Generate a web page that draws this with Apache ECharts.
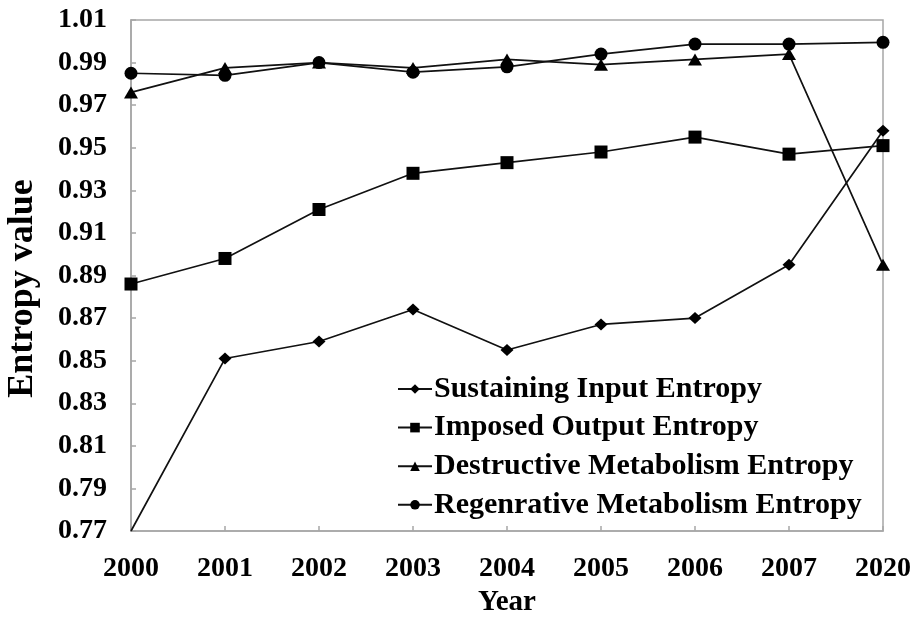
<!DOCTYPE html>
<html>
<head>
<meta charset="utf-8">
<script src="https://cdn.jsdelivr.net/npm/echarts@6/dist/echarts.min.js"></script>
<style>
  html, body { margin: 0; padding: 0; background: #fff; }
  #chart { width: 920px; height: 621px; }
</style>
</head>
<body>
<div id="chart"></div>
<script>
// ---- data ----
const years = ['2000', '2001', '2002', '2003', '2004', '2005', '2006', '2007', '2020'];
const sustainingInput = [0.770, 0.851, 0.859, 0.874, 0.855, 0.867, 0.870, 0.895, 0.958];
const imposedOutput = [0.886, 0.898, 0.921, 0.938, 0.943, 0.948, 0.955, 0.947, 0.951];
const destructiveMetabolism = [0.976, 0.9875, 0.990, 0.9875, 0.9915, 0.989, 0.9915, 0.994, 0.895];
const regenerativeMetabolism = [0.985, 0.984, 0.990, 0.9855, 0.988, 0.994, 0.9987, 0.9987, 0.9995];
const yTicks = [0.77, 0.79, 0.81, 0.83, 0.85, 0.87, 0.89, 0.91, 0.93, 0.95, 0.97, 0.99, 1.01];
const seriesNames = ['Sustaining Input Entropy', 'Imposed Output Entropy', 'Destructive Metabolism Entropy', 'Regenrative Metabolism Entropy'];

const FONT = "'Liberation Serif', 'Times New Roman', serif";
const axisGray = '#a6a6a6';

function lineSeries(name, data, symbol, size) {
  return {
    name: name,
    type: 'line',
    data: data,
    symbol: symbol,
    symbolSize: size,
    showSymbol: true,
    clip: true,
    lineStyle: { color: '#111', width: 1.7 },
    itemStyle: { color: '#000' },
    emphasis: { disabled: true },
    animation: false
  };
}

const chart = echarts.init(document.getElementById('chart'), null, { renderer: 'canvas' });
chart.setOption({
  backgroundColor: '#fff',
  animation: false,
  grid: {
    left: 131, right: 37, top: 20, bottom: 90,
    containLabel: false,
    outerBoundsMode: 'none',
    show: true, borderColor: axisGray, borderWidth: 1.5, backgroundColor: 'transparent'
  },
  legend: {
    orient: 'vertical',
    left: 392, top: 369,
    itemWidth: 34, itemHeight: 12, itemGap: 8.6,
    textStyle: { fontFamily: FONT, fontWeight: 'bold', fontSize: 30, color: '#000', lineHeight: 30, padding: [0, 0, 0, -3] },
    data: seriesNames
  },
  xAxis: {
    type: 'category',
    data: years,
    boundaryGap: false,
    name: 'Year',
    nameLocation: 'middle',
    nameGap: 50,
    nameTextStyle: { fontFamily: FONT, fontWeight: 'bold', fontSize: 29, color: '#000' },
    axisLine: { show: true, lineStyle: { color: axisGray, width: 1.5 } },
    axisTick: { show: true, inside: true, length: 5, alignWithLabel: true, lineStyle: { color: axisGray, width: 1.5 } },
    axisLabel: { fontFamily: FONT, fontWeight: 'bold', fontSize: 28, color: '#000', margin: 24 },
    splitLine: { show: false }
  },
  yAxis: {
    type: 'value',
    min: 0.77,
    max: 1.01,
    name: 'Entropy value',
    nameLocation: 'middle',
    nameGap: 90,
    nameRotate: 90,
    nameTextStyle: { fontFamily: FONT, fontWeight: 'bold', fontSize: 36, color: '#000', padding: [0, 26, 0, 0] },
    axisLine: { show: true, lineStyle: { color: axisGray, width: 1.5 } },
    axisTick: { show: true, inside: true, length: 5, customValues: yTicks, lineStyle: { color: axisGray, width: 1.5 } },
    axisLabel: {
      fontFamily: FONT, fontWeight: 'bold', fontSize: 28, color: '#000', margin: 24,
      customValues: yTicks,
      formatter: function (v) { return v.toFixed(2); }
    },
    splitLine: { show: false }
  },
  series: [
    lineSeries(seriesNames[0], sustainingInput.map(function (v, i) { return i === 0 ? { value: v, symbol: 'none' } : v; }), 'diamond', [13, 12]),
    lineSeries(seriesNames[1], imposedOutput, 'rect', 13),
    lineSeries(seriesNames[2], destructiveMetabolism, 'triangle', [14, 12]),
    lineSeries(seriesNames[3], regenerativeMetabolism, 'circle', 13)
  ]
});
</script>
</body>
</html>
